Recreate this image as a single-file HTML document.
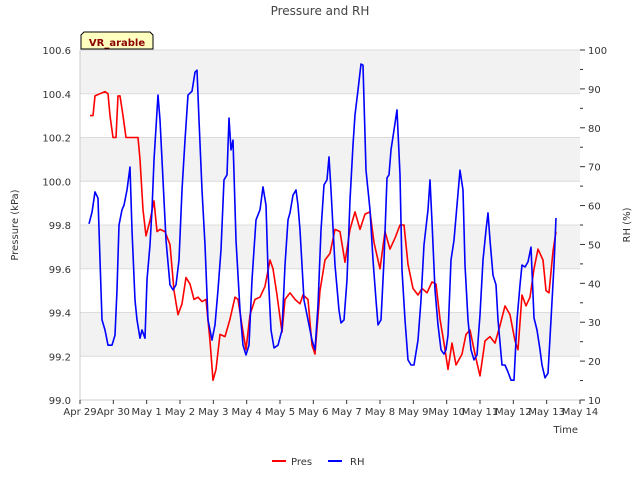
<!DOCTYPE html>
<html><head><meta charset="utf-8"><style>
body{margin:0;background:#fff;}
svg{display:block;font-family:"DejaVu Sans","Liberation Sans",sans-serif;}
</style></head><body>
<svg id="chart" width="640" height="480" xmlns="http://www.w3.org/2000/svg">
<text x="320" y="15" text-anchor="middle" font-size="12" fill="#444">Pressure and RH</text>
<g id="bands"></g>
<g id="grid"></g>
<g id="xaxis"></g>
<g id="yleft"></g>
<g id="yright"></g>
<g id="series"></g>
<text transform="translate(18,225) rotate(-90)" text-anchor="middle" font-size="10" fill="#333">Pressure (kPa)</text>
<text transform="translate(630,225) rotate(-90)" text-anchor="middle" font-size="10" fill="#333">RH (%)</text>
<text x="578" y="433" text-anchor="end" font-size="10" fill="#333">Time</text>
<g>
<path d="M81,49 L81,35 L84,32 L150,32 L153,35 L153,49 Z" fill="#ffffc0" stroke="#000" stroke-width="1"/>
<text x="117" y="46" text-anchor="middle" font-size="10" font-weight="bold" fill="#8b0000">VR_arable</text>
</g>
<g>
<g>
<line x1="272" y1="461" x2="286" y2="461" stroke="#ff0000" stroke-width="2"/>
<text x="291" y="465" font-size="10" fill="#333">Pres</text></g>
<g>
<line x1="328" y1="461" x2="342" y2="461" stroke="#0000ff" stroke-width="2"/>
<text x="350" y="465" font-size="10" fill="#333">RH</text></g>
</g>
</svg>
<script>
const xTickLabels=["Apr 29","Apr 30","May 1","May 2","May 3","May 4","May 5","May 6","May 7","May 8","May 9","May 10","May 11","May 12","May 13","May 14"];
const pTicks=[99.0,99.2,99.4,99.6,99.8,100.0,100.2,100.4,100.6];
const rhTicks=[10,20,30,40,50,60,70,80,90,100];
const presDays=[0.30,0.39,0.45,0.60,0.75,0.84,0.90,0.99,1.08,1.14,1.20,1.29,1.38,1.74,1.80,1.89,1.98,2.10,2.22,2.31,2.40,2.55,2.70,2.82,2.94,3.06,3.18,3.30,3.42,3.54,3.66,3.78,3.90,3.99,4.08,4.20,4.35,4.50,4.65,4.74,4.86,4.98,5.10,5.25,5.40,5.55,5.70,5.79,5.91,6.06,6.15,6.30,6.45,6.60,6.69,6.84,6.96,7.05,7.20,7.35,7.50,7.65,7.80,7.95,8.10,8.25,8.40,8.55,8.70,8.82,9.00,9.15,9.30,9.45,9.60,9.72,9.84,9.99,10.14,10.26,10.41,10.56,10.68,10.80,10.92,11.04,11.16,11.28,11.46,11.58,11.70,11.85,12.00,12.15,12.30,12.45,12.60,12.75,12.90,13.05,13.14,13.26,13.38,13.50,13.62,13.74,13.89,13.98,14.07,14.19,14.28];
const presVals=[100.30,100.30,100.39,100.40,100.41,100.40,100.30,100.20,100.20,100.39,100.39,100.30,100.20,100.20,100.10,99.87,99.75,99.82,99.91,99.77,99.78,99.77,99.71,99.50,99.39,99.44,99.56,99.53,99.46,99.47,99.45,99.46,99.27,99.09,99.14,99.30,99.29,99.37,99.47,99.46,99.34,99.23,99.39,99.46,99.47,99.52,99.64,99.60,99.48,99.31,99.46,99.49,99.46,99.44,99.48,99.46,99.25,99.21,99.50,99.64,99.67,99.78,99.77,99.63,99.78,99.86,99.78,99.85,99.86,99.72,99.60,99.77,99.69,99.74,99.80,99.80,99.62,99.51,99.48,99.51,99.49,99.54,99.53,99.37,99.26,99.14,99.26,99.16,99.21,99.30,99.32,99.21,99.11,99.27,99.29,99.26,99.34,99.43,99.39,99.27,99.23,99.48,99.43,99.47,99.60,99.69,99.64,99.50,99.49,99.68,99.77];
const rhDays=[0.27,0.36,0.45,0.54,0.60,0.66,0.75,0.84,0.96,1.05,1.11,1.17,1.26,1.32,1.41,1.50,1.56,1.65,1.71,1.80,1.86,1.95,2.01,2.10,2.16,2.22,2.34,2.40,2.49,2.58,2.70,2.79,2.88,2.97,3.06,3.15,3.24,3.36,3.45,3.51,3.57,3.66,3.75,3.84,3.96,4.05,4.14,4.23,4.32,4.41,4.47,4.53,4.59,4.68,4.80,4.89,4.98,5.07,5.16,5.28,5.40,5.49,5.58,5.64,5.73,5.82,5.94,6.06,6.15,6.24,6.30,6.39,6.48,6.54,6.60,6.72,6.84,6.96,7.05,7.14,7.23,7.32,7.41,7.47,7.53,7.65,7.77,7.83,7.92,8.01,8.10,8.19,8.25,8.34,8.43,8.49,8.58,8.70,8.79,8.88,8.94,9.03,9.12,9.21,9.27,9.33,9.42,9.51,9.60,9.66,9.75,9.84,9.93,10.02,10.14,10.23,10.32,10.44,10.50,10.56,10.65,10.74,10.83,10.92,10.98,11.04,11.13,11.22,11.31,11.40,11.49,11.55,11.64,11.73,11.82,11.91,12.00,12.09,12.18,12.24,12.30,12.39,12.48,12.54,12.66,12.75,12.84,12.93,13.02,13.11,13.20,13.26,13.35,13.44,13.53,13.62,13.71,13.80,13.86,13.95,14.04,14.13,14.22,14.28];
const rhVals=[55.3,58.3,63.5,61.9,46.0,30.6,28.0,24.1,24.1,26.7,38.3,55.0,58.9,60.1,64.0,69.9,53.7,35.7,30.6,25.9,28.0,25.9,40.9,49.9,58.9,71.7,88.4,82.0,66.6,51.1,39.6,38.3,39.6,46.0,64.0,76.8,88.4,89.4,94.3,94.8,82.0,64.0,49.9,30.6,25.4,29.3,38.3,48.6,66.6,67.9,82.5,74.3,76.8,51.1,33.1,24.1,21.6,24.1,40.9,56.3,58.9,64.8,60.1,43.4,28.0,23.4,24.1,28.0,44.7,56.3,58.1,62.7,64.0,60.1,53.7,35.7,30.6,25.4,22.9,34.4,53.7,65.3,66.6,72.5,64.0,44.7,33.1,29.8,30.6,40.9,61.4,75.6,83.3,89.7,96.4,96.1,69.1,58.9,46.0,35.7,29.3,30.6,46.0,67.1,67.9,74.3,79.4,84.6,67.9,43.4,30.6,20.3,19.0,19.0,25.4,35.7,49.9,58.9,66.6,55.8,38.3,29.3,22.9,21.8,22.9,26.7,46.0,51.1,60.1,69.1,64.0,44.7,30.6,22.9,20.3,21.6,31.9,46.0,53.7,58.1,51.1,42.1,39.6,30.6,19.0,19.0,17.2,15.1,15.1,30.6,39.6,44.7,44.2,45.5,49.3,31.1,28.0,22.9,19.0,15.7,16.9,30.6,44.7,56.8];

const L=80,R=580,T=50,B=400,NS="http://www.w3.org/2000/svg";
const xs=d=>L+(R-L)*d/15;
const yp=v=>B-(B-T)*(v-99.0)/1.6;
const yr=v=>B-(B-T)*(v-10)/90;
function mk(tag,attrs,parent){const e=document.createElementNS(NS,tag);for(const k in attrs)e.setAttribute(k,attrs[k]);parent.appendChild(e);return e;}
const bands=document.getElementById('bands'),grid=document.getElementById('grid');
mk('rect',{x:L,y:T,width:R-L,height:B-T,fill:'#ffffff'},bands);
for(let i=0;i<pTicks.length-1;i++){
  if(i%2===1){const r=mk('rect',{x:L,y:yp(pTicks[i+1]),width:R-L,height:yp(pTicks[i])-yp(pTicks[i+1]),fill:'#f2f2f2'},bands);
  
  }
}
const yl=document.getElementById('yleft');
pTicks.forEach(v=>{
  const l=mk('line',{x1:L,x2:R,y1:yp(v),y2:yp(v),stroke:'#dcdcdc','stroke-width':1},grid);
  
  
  const t=mk('text',{x:L-9,y:yp(v)+4,'text-anchor':'end','font-size':10,fill:'#333'},yl);
  
  
  t.textContent=v.toFixed(1);
});
mk('line',{x1:L,x2:L,y1:T,y2:B,stroke:'#cccccc','stroke-width':1},yl);
const yrg=document.getElementById('yright');
rhTicks.forEach(v=>{
  mk('line',{x1:R,x2:R+5,y1:yr(v),y2:yr(v),stroke:'#333','stroke-width':1},yrg);
  if(v<100) mk('line',{x1:R,x2:R+3,y1:yr(v+5),y2:yr(v+5),stroke:'#333','stroke-width':1},yrg);
  const t=mk('text',{x:R+8,y:yr(v)+4,'font-size':10,fill:'#333'},yrg);
  
  
  t.textContent=v;
});
const xa=document.getElementById('xaxis');
mk('line',{x1:L,x2:R,y1:B,y2:B,stroke:'#cccccc','stroke-width':1},xa);
xTickLabels.forEach((s,i)=>{
  mk('line',{x1:xs(i),x2:xs(i),y1:B,y2:B+4,stroke:'#333','stroke-width':1},xa);
  const t=mk('text',{x:xs(i),y:B+15,'text-anchor':'middle','font-size':10,fill:'#333'},xa);
  
  
  t.textContent=s;
});
const sg=document.getElementById('series');
const pd=presDays.map((d,i)=>(i?'L':'M')+xs(d).toFixed(1)+','+yp(presVals[i]).toFixed(1)).join('');
const pl=mk('path',{d:pd,fill:'none',stroke:'#ff0000','stroke-width':1.6,'stroke-linejoin':'round'},sg);


const rd=rhDays.map((d,i)=>(i?'L':'M')+xs(d).toFixed(1)+','+yr(rhVals[i]).toFixed(1)).join('');
const rl=mk('path',{d:rd,fill:'none',stroke:'#0000ff','stroke-width':1.6,'stroke-linejoin':'round'},sg);


</script>
</body></html>
